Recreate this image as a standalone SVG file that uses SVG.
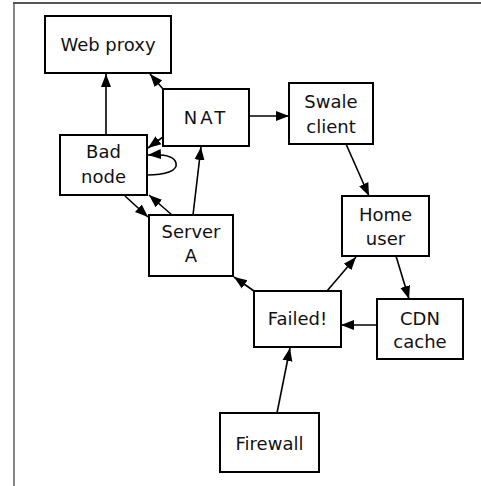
<svg xmlns="http://www.w3.org/2000/svg" width="481" height="486" viewBox="0 0 481 486">
<defs>
<marker id="ah" markerUnits="userSpaceOnUse" markerWidth="14" markerHeight="12" viewBox="0 0 14 12" refX="13" refY="6" orient="auto">
<path d="M0,1 L13,6 L0,11 Z" fill="#000"/>
</marker>
<style>
.n rect{fill:#fff;stroke:#000;stroke-width:2}
.n text{font-family:"DejaVu Sans",sans-serif;font-size:18px;fill:#111;text-anchor:middle}
.e path,.e line{stroke:#000;stroke-width:1.6;fill:none;marker-end:url(#ah)}
</style>
</defs>
<rect x="0" y="0" width="481" height="486" fill="#fff"/>
<line x1="14" y1="3" x2="14" y2="486" stroke="#888" stroke-width="2"/>
<line x1="13" y1="3" x2="481" y2="3" stroke="#555" stroke-width="2"/>
<g id="edges" class="e">
<line x1="106" y1="135" x2="106" y2="74"/>
<line x1="163" y1="89" x2="150" y2="74"/>
<line x1="163" y1="137" x2="148" y2="148"/>
<path d="M147,175 C165,175 178,171 176,163 C174,155 162,154 148,155"/>
<line x1="172" y1="215" x2="149" y2="195"/>
<line x1="125" y1="196" x2="148" y2="217"/>
<line x1="193" y1="215" x2="201" y2="147"/>
<line x1="249" y1="116" x2="289" y2="116"/>
<line x1="346" y1="144" x2="369" y2="196"/>
<line x1="396" y1="256" x2="409" y2="299"/>
<line x1="377" y1="325" x2="341" y2="325"/>
<line x1="327" y1="291" x2="356" y2="257"/>
<line x1="254" y1="291" x2="234" y2="277"/>
<line x1="277" y1="413" x2="290" y2="348"/>
</g>
<g id="webproxy" class="n"><rect x="45" y="16" width="126" height="57"/><text x="108" y="51">Web proxy</text></g>
<g id="nat" class="n"><rect x="163" y="89" width="86" height="57"/><text x="206" y="124" letter-spacing="3">NAT</text></g>
<g id="badnode" class="n"><rect x="60" y="135" width="87" height="60"/><text x="103.5" y="158">Bad</text><text x="103.5" y="183">node</text></g>
<g id="servera" class="n"><rect x="149" y="215" width="84" height="61"/><text x="191" y="238">Server</text><text x="191" y="262">A</text></g>
<g id="swaleclient" class="n"><rect x="289" y="83" width="84" height="61"/><text x="331" y="108">Swale</text><text x="331" y="133">client</text></g>
<g id="homeuser" class="n"><rect x="342" y="196" width="87" height="60"/><text x="385.5" y="221">Home</text><text x="385.5" y="245">user</text></g>
<g id="failed" class="n"><rect x="254" y="291" width="87" height="56"/><text x="297.5" y="325">Failed!</text></g>
<g id="cdncache" class="n"><rect x="377" y="299" width="86" height="60"/><text x="420" y="325">CDN</text><text x="420" y="348">cache</text></g>
<g id="firewall" class="n"><rect x="220" y="413" width="99" height="59"/><text x="269.5" y="450">Firewall</text></g>
</svg>
